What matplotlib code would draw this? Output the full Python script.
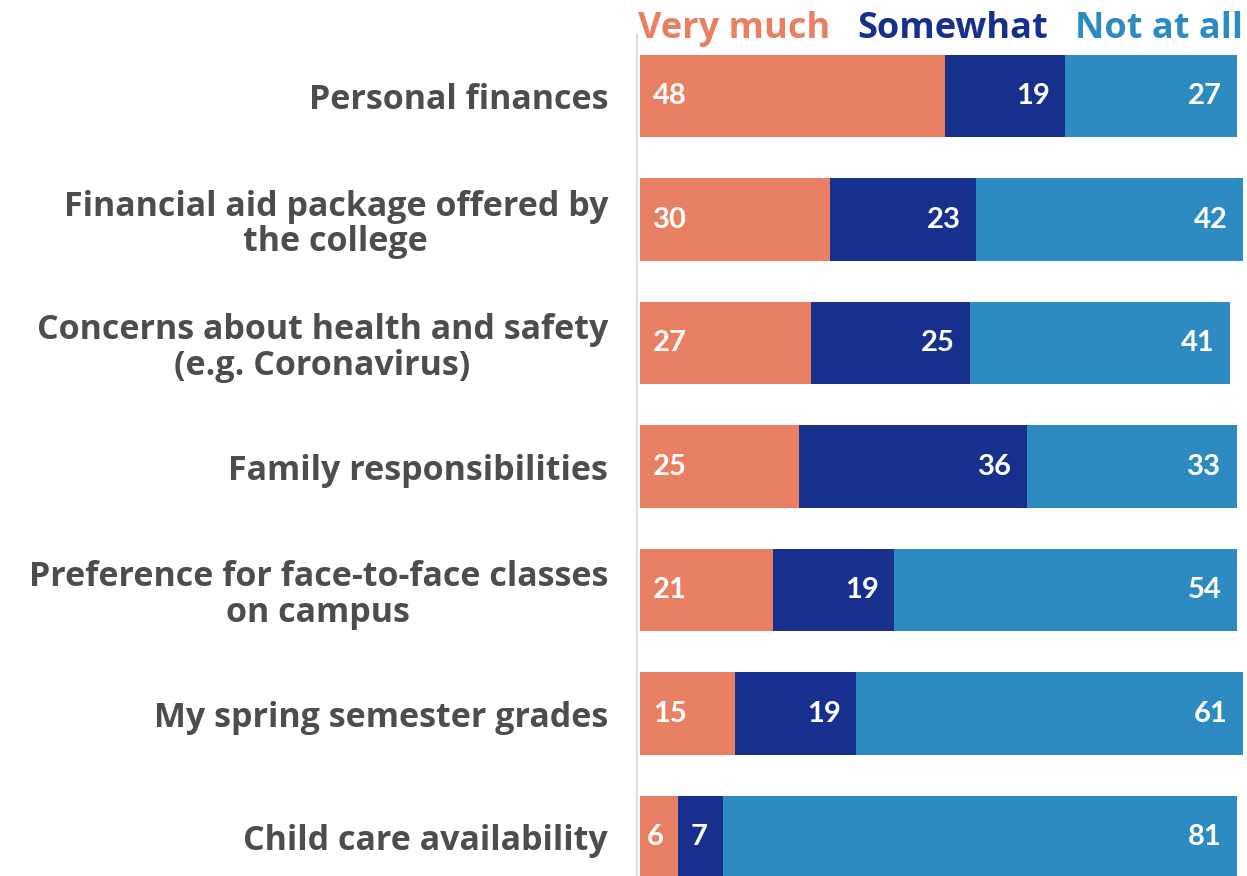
import numpy as np
import matplotlib.pyplot as plt

# data
categories = ["Personal finances",
              "Financial aid package offered by\nthe college",
              "Concerns about health and safety\n(e.g. Coronavirus)",
              "Family responsibilities",
              "Preference for face-to-face classes\non campus",
              "My spring semester grades",
              "Child care availability"]
very_much = [48, 30, 27, 25, 21, 15, 6]
somewhat = [19, 23, 25, 36, 19, 19, 7]
not_at_all = [27, 42, 41, 33, 54, 61, 81]
series_names = ["Very much", "Somewhat", "Not at all"]
colors = ["#E97F63", "#17308E", "#2E8BC2"]

W, H = 1247, 876
fig = plt.figure(figsize=(W / 100, H / 100), dpi=100)
# axes placed in pixel terms: bars from x=640, 7 rows spaced ~123.5px
top_px, bot_px = 34.25, 898.75
ax = fig.add_axes([640 / W, 1 - bot_px / H, (1243 - 640) / W, (bot_px - top_px) / H])

# spines first - set_position resets the ticks
for s in ["top", "right", "bottom"]:
    ax.spines[s].set_visible(False)
ax.spines["left"].set_color("#d5d5d5")
ax.spines["left"].set_linewidth(1.2)
ax.spines["left"].set_position(("outward", 2))

y = np.arange(len(categories))
vm = np.array(very_much)
sw = np.array(somewhat)
na = np.array(not_at_all)
bh = 0.665

ax.barh(y, vm, height=bh, color=colors[0])
ax.barh(y, sw, left=vm, height=bh, color=colors[1])
ax.barh(y, na, left=vm + sw, height=bh, color=colors[2])

lab_font = dict(color="white", fontsize=21, fontweight="bold", family="Lato", va="center")
for i in range(len(categories)):
    off = 2.1 if vm[i] > 8 else 1.0
    ax.text(off, y[i], str(vm[i]), ha="left", **lab_font)
    ax.text(vm[i] + sw[i] - 2.4, y[i], str(sw[i]), ha="right", **lab_font)
    ax.text(vm[i] + sw[i] + na[i] - 2.4, y[i], str(na[i]), ha="right", **lab_font)

ax.set_xlim(0, 95)
ax.set_ylim(6.5, -0.5)
ax.set_xticks([])
ax.set_yticks(y)
ax.set_yticklabels(categories, fontsize=24.5, family="Open Sans", fontweight="bold",
                   color="#4d4d4d", multialignment="center", linespacing=1.06)
ax.tick_params(axis="y", length=0, pad=21)

# legend as coloured words along the top
leg_font = dict(fontsize=26, fontweight="bold", family="Open Sans", va="center")
fig.text(638 / W, 1 - 29 / H, series_names[0], color=colors[0], ha="left", **leg_font)
fig.text(953 / W, 1 - 29 / H, series_names[1], color=colors[1], ha="center", **leg_font)
fig.text(1243 / W, 1 - 29 / H, series_names[2], color=colors[2], ha="right", **leg_font)

fig.savefig("out.png", dpi=100, facecolor="white")
